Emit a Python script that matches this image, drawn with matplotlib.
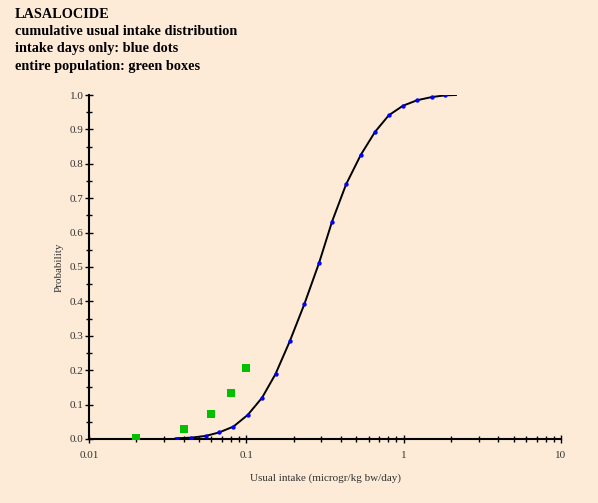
import matplotlib.pyplot as plt
from matplotlib.ticker import LogLocator, MultipleLocator, FixedFormatter, FixedLocator

# intake days only (blue dots)
dot_x = [0.0361, 0.0447, 0.0552, 0.0671, 0.0827, 0.1021, 0.1259, 0.1533, 0.1888, 0.2337,
         0.2900, 0.3506, 0.4303, 0.5339, 0.6580, 0.8042, 0.9913, 1.222, 1.509, 1.834]
dot_p = [0.000, 0.003, 0.008, 0.019, 0.036, 0.070, 0.120, 0.189, 0.284, 0.392,
         0.512, 0.632, 0.740, 0.826, 0.893, 0.941, 0.969, 0.985, 0.994, 0.999]

# fitted curve
line_x = [0.0355, 0.0447, 0.0552, 0.0671, 0.0827, 0.1021, 0.1259, 0.1533, 0.1888, 0.2337,
          0.2900, 0.3506, 0.4303, 0.5339, 0.6580, 0.8042, 0.9913, 1.222, 1.509, 1.834, 2.15]
line_p = [0.002, 0.004, 0.009, 0.019, 0.036, 0.070, 0.120, 0.189, 0.284, 0.392,
          0.512, 0.632, 0.740, 0.826, 0.893, 0.941, 0.969, 0.985, 0.994, 0.999, 1.000]

# entire population (green boxes)
box_x = [0.02, 0.04, 0.06, 0.08, 0.10]
box_p = [0.002, 0.028, 0.073, 0.133, 0.206]

bg = "#FDEBD7"
plt.rcParams['font.family'] = ['Liberation Serif', 'DejaVu Serif']

fig = plt.figure(figsize=(5.98, 5.03), dpi=100, facecolor=bg)
ax = fig.add_axes([89/598, 1 - 439/503, 472/598, 344/503], facecolor=bg)

ax.plot(line_x, line_p, color="black", linewidth=1.4, zorder=2)
ax.scatter(dot_x, dot_p, s=10, color="#0000FF", zorder=3, linewidths=0)
ax.scatter(box_x, box_p, s=34, marker="s", color="#00C000", zorder=3, linewidths=0)

ax.set_xscale("log")
ax.set_xlim(0.01, 10)
ax.set_ylim(0, 1.0)

ax.xaxis.set_major_locator(FixedLocator([0.01, 0.1, 1, 10]))
ax.xaxis.set_major_formatter(FixedFormatter(["0.01", "0.1", "1", "10"]))
ax.xaxis.set_minor_locator(LogLocator(base=10, subs=range(2, 10)))
ax.xaxis.set_minor_formatter(FixedFormatter([]))
ax.yaxis.set_major_locator(MultipleLocator(0.1))
ax.yaxis.set_minor_locator(MultipleLocator(0.05))
ax.yaxis.set_major_formatter(lambda v, pos: "%.1f" % v)

for s in ["top", "right"]:
    ax.spines[s].set_visible(False)
for s in ["left", "bottom"]:
    ax.spines[s].set_linewidth(1.5)
    ax.spines[s].set_color("black")

ax.tick_params(axis="x", which="major", direction="inout", length=6, width=1, labelsize=8, pad=6)
ax.tick_params(axis="x", which="minor", direction="inout", length=4, width=1)
ax.tick_params(axis="y", which="major", direction="inout", length=6, width=1, labelsize=8, pad=1)
ax.tick_params(axis="y", which="minor", direction="inout", length=4, width=1)
for lab in ax.get_xticklabels() + ax.get_yticklabels():
    lab.set_color("#333333")

ax.set_xlabel("Usual intake (microgr/kg bw/day)", fontsize=8, color="#333333", labelpad=9)
ax.set_ylabel("Probability", fontsize=8, color="#333333", labelpad=4)

titles = ["LASALOCIDE", "cumulative usual intake distribution",
          "intake days only: blue dots", "entire population: green boxes"]
for i, t in enumerate(titles):
    fig.text(15/598, 1 - (14 + 17.4*i)/503, t, fontsize=10.3, fontweight="bold",
             va="center", ha="left", color="black")

fig.savefig("out.png", dpi=100, facecolor=bg)
